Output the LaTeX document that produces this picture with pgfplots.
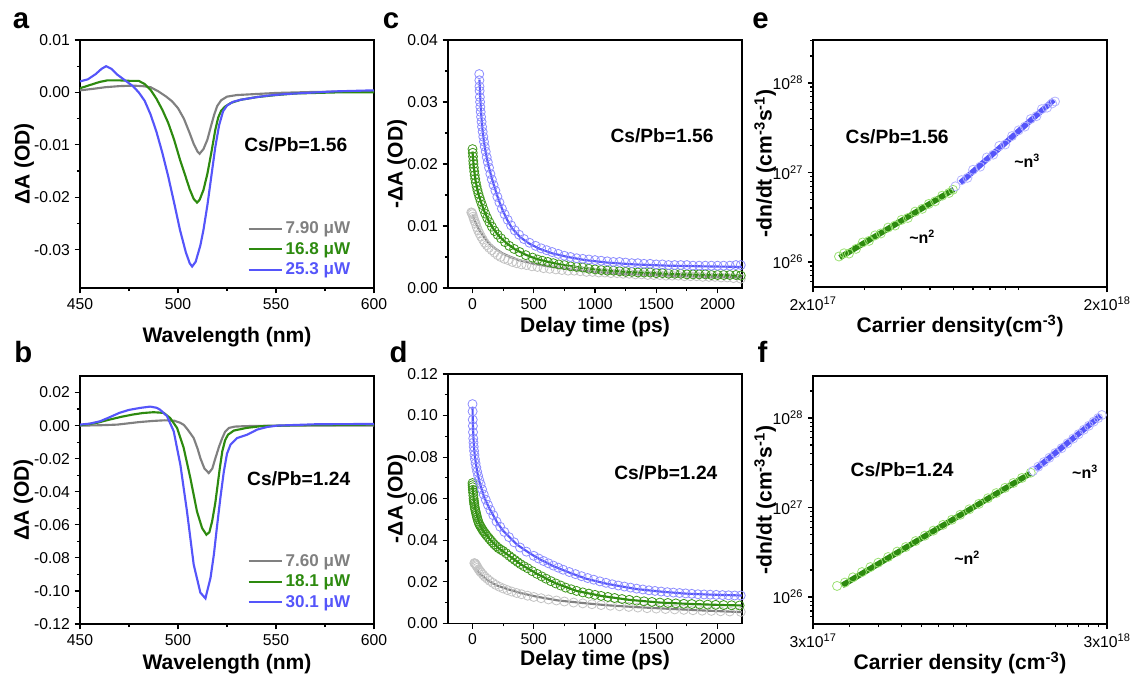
\documentclass[border=0pt]{standalone}
\usepackage{pgfplots}
\pgfplotsset{compat=1.18}
\usepackage{fontspec}
\setmainfont{Liberation Sans}

\definecolor{cgrey}{RGB}{128,128,128}
\definecolor{cgreen}{RGB}{45,138,15}
\definecolor{cblue}{RGB}{85,85,250}
\definecolor{mgrey}{RGB}{195,195,195}
\definecolor{mgreen}{RGB}{60,150,25}
\definecolor{mblue}{RGB}{140,140,255}
\definecolor{lgreen}{RGB}{155,225,115}
\definecolor{lblue}{RGB}{180,180,255}

\pgfplotsset{
  panel/.style={scale only axis, width=220.5pt, height=186pt, anchor=north west,
    axis line style={line width=1.1pt},
    tick align=outside, xtick pos=bottom, ytick pos=left,
    major tick length=4pt, minor tick length=2.3pt,
    tick style={black, line width=0.9pt},
    tick label style={font=\fontsize{11.8}{13}\selectfont},
    label style={font=\bfseries\fontsize{15.8}{18}\selectfont},
    ylabel style={anchor=center},
    xlabel style={anchor=center},
    /pgf/number format/assume math mode=true,
    /pgf/number format/1000 sep={},
    scaled ticks=false},
  yfix/.style={yticklabel style={/pgf/number format/.cd,fixed,fixed zerofill,precision=2}},
  leg/.style={legend cell align=left,
    legend style={draw=none, fill=none, font=\bfseries\fontsize{12.8}{15}\selectfont, row sep=1pt},
    legend image code/.code={\draw[##1, line width=1.5pt] (0pt,0pt) -- (25pt,0pt);}},
  circ/.style={only marks, mark=o, mark size=3.4pt, mark options={line width=0.6pt}},
}
\newcommand{\ann}{\bfseries\fontsize{14.4}{16}\selectfont}
\newcommand{\lab}{\bfseries\fontsize{22}{24}\selectfont}

\begin{document}
\begin{tikzpicture}
\useasboundingbox (0,0) rectangle (848.25pt,-505.5pt);

% ---------- a ----------
\begin{axis}[panel, yfix, leg, at={(60pt,-30pt)},
  xmin=450, xmax=600, ymin=-0.0373, ymax=0.01,
  xtick={450,500,550,600}, minor x tick num=1,
  ytick={-0.03,-0.02,-0.01,0,0.01}, minor y tick num=1,
  xlabel={Wavelength (nm)}, ylabel={ΔA (OD)},
  xlabel style={at={(axis description cs:0.5,-0.198)}},
  ylabel style={at={(axis description cs:-0.19,0.5)}},
  legend style={at={(axis description cs:0.556,0.29)}, anchor=north west}]
\addplot[cgrey, line width=1.6pt] coordinates {(450,0.0004)(457,0.0007)(463,0.0010)(470,0.0012)(477,0.0013)(482,0.0012)(486,0.0010)(490,0.0002)(494,-0.0008)(497,-0.0017)(500,-0.0030)(503,-0.0050)(506,-0.0078)(508,-0.0098)(510,-0.0113)(511,-0.0117)(513,-0.0108)(515,-0.0090)(517,-0.0062)(518.5,-0.0042)(520,-0.0026)(522,-0.0015)(525,-0.0008)(530,-0.0005)(540,-0.0003)(550,-0.0001)(570,0.0001)(600,0.0002)};
\addlegendentry{\textcolor{cgrey}{7.90 μW}}
\addplot[cgreen, line width=1.6pt] coordinates {(450,0.0008)(455,0.0014)(460,0.0020)(464,0.0023)(470,0.0023)(476,0.0022)(480,0.0022)(483,0.0016)(486,0.0005)(489,-0.0012)(492,-0.0033)(495,-0.0058)(498,-0.0090)(501,-0.0128)(504,-0.0162)(506,-0.0185)(508,-0.0203)(509.7,-0.0210)(511,-0.0205)(513,-0.0186)(515,-0.0155)(517,-0.0115)(519,-0.0072)(520.5,-0.0048)(522,-0.0035)(524,-0.0027)(527,-0.0020)(532,-0.0014)(540,-0.0009)(550,-0.0005)(560,-0.0002)(580,0.0)(600,0.0)};
\addlegendentry{\textcolor{cgreen}{16.8 μW}}
\addplot[cblue, line width=1.6pt] coordinates {(450,0.0021)(454,0.0025)(458,0.0035)(461,0.0045)(463.3,0.0050)(466,0.0045)(469,0.0034)(473,0.0023)(477,0.0012)(480,0.0)(483,-0.0016)(486,-0.0042)(489,-0.0075)(492,-0.0115)(495,-0.0160)(498,-0.0210)(501,-0.0262)(504,-0.0305)(506,-0.0326)(507.2,-0.0332)(509,-0.0323)(511.4,-0.0292)(513,-0.0262)(515,-0.0215)(517,-0.0160)(519,-0.0105)(521,-0.0062)(523,-0.0036)(525,-0.0025)(528,-0.0018)(532,-0.0014)(540,-0.0009)(546,-0.0006)(555,-0.0003)(565,-0.0001)(580,0.0002)(600,0.0004)};
\addlegendentry{\textcolor{cblue}{25.3 μW}}
\node[font=\ann] at (axis description cs:0.734,0.577) {Cs/Pb=1.56};
\end{axis}

% ---------- b ----------
\begin{axis}[panel, yfix, leg, at={(60pt,-282pt)},
  xmin=450, xmax=600, ymin=-0.12, ymax=0.03,
  xtick={450,500,550,600}, minor x tick num=1,
  ytick={-0.12,-0.10,-0.08,-0.06,-0.04,-0.02,0,0.02}, minor y tick num=1,
  xlabel={Wavelength (nm)}, ylabel={ΔA (OD)},
  xlabel style={at={(axis description cs:0.5,-0.163)}},
  ylabel style={at={(axis description cs:-0.192,0.5)}},
  legend style={at={(axis description cs:0.556,0.304)}, anchor=north west}]
\addplot[cgrey, line width=1.6pt] coordinates {(450,0.0)(460,0.0002)(469,0.0006)(480,0.0021)(487,0.0028)(493,0.0032)(498,0.0030)(501,0.0018)(503,0.0004)(505,-0.0025)(508,-0.0075)(510,-0.0140)(511.5,-0.0200)(513.5,-0.0260)(515.7,-0.0287)(517.5,-0.0260)(519,-0.0200)(521,-0.0125)(522.6,-0.0075)(524,-0.0038)(526,-0.0014)(529,-0.0006)(535,-0.0003)(550,0.0)(600,0.0)};
\addlegendentry{\textcolor{cgrey}{7.60 μW}}
\addplot[cgreen, line width=1.6pt] coordinates {(450,0.0002)(458,0.0015)(465,0.0036)(471,0.0053)(477,0.0067)(482,0.0076)(487.5,0.0081)(492.7,0.0077)(496,0.0046)(499.5,-0.0014)(502.9,-0.0135)(506.3,-0.0317)(509.7,-0.0520)(512.3,-0.0620)(514.5,-0.0660)(516,-0.0645)(517.4,-0.0580)(519,-0.0470)(520,-0.0380)(521.3,-0.0260)(522.6,-0.0156)(524,-0.0090)(525.5,-0.0055)(528.5,-0.0030)(535,-0.0014)(542,-0.0004)(560,0.0002)(600,0.0006)};
\addlegendentry{\textcolor{cgreen}{18.1 μW}}
\addplot[cblue, line width=1.6pt] coordinates {(450,0.0006)(455,0.0012)(460.2,0.0026)(465,0.0050)(470.1,0.0077)(475,0.0095)(480.7,0.0107)(485.8,0.0115)(489,0.0108)(490.8,0.0097)(494.4,0.0057)(497.8,-0.0034)(501.2,-0.0236)(504.6,-0.0520)(508,-0.0840)(511.4,-0.1010)(514,-0.1045)(516.6,-0.0920)(518.3,-0.0780)(520,-0.0600)(521.7,-0.0430)(523.4,-0.0277)(525,-0.0170)(526.8,-0.0115)(530.2,-0.0075)(535.3,-0.0055)(540.4,-0.0024)(545.6,-0.0008)(550.7,0.0)(570,0.0008)(600,0.001)};
\addlegendentry{\textcolor{cblue}{30.1 μW}}
\node[font=\ann] at (axis description cs:0.744,0.587) {Cs/Pb=1.24};
\end{axis}

% ---------- c ----------
\begin{axis}[panel, yfix, at={(336pt,-30pt)},
  xmin=-200, xmax=2200, ymin=0, ymax=0.04,
  xtick={0,500,1000,1500,2000}, minor x tick num=1,
  ytick={0,0.01,0.02,0.03,0.04}, minor y tick num=1,
  xlabel={Delay time (ps)}, ylabel={-ΔA (OD)},
  xlabel style={at={(axis description cs:0.5,-0.157)}},
  ylabel style={at={(axis description cs:-0.173,0.5)}}]
\addplot[circ, mgrey] coordinates {(-10,0.0122)(-5,0.0121)(0,0.0119)(5,0.0115)(10,0.0112)(17,0.0108)(25,0.0104)(35,0.0098)(45,0.0093)(57,0.0088)(70,0.0083)(85,0.0078)(100,0.0073)(117,0.0069)(135,0.0065)(157,0.0061)(180,0.0057)(205,0.0053)(230,0.0050)(260,0.0047)(290,0.0045)(325,0.0042)(360,0.0040)(400,0.0038)(440,0.0037)(485,0.0035)(530,0.0034)(580,0.0032)(630,0.0031)(680,0.0030)(730,0.0029)(780,0.0028)(830,0.0028)(880,0.0027)(930,0.0026)(980,0.0026)(1030,0.0025)(1080,0.0025)(1130,0.0024)(1180,0.0024)(1230,0.0023)(1280,0.0023)(1330,0.0022)(1380,0.0022)(1430,0.0021)(1480,0.0021)(1530,0.0021)(1580,0.0020)(1630,0.0020)(1680,0.0020)(1730,0.0019)(1780,0.0019)(1830,0.0019)(1880,0.0018)(1930,0.0018)(1980,0.0018)(2030,0.0017)(2080,0.0017)(2130,0.0016)(2190,0.0015)};
\addplot[cgrey, line width=1.6pt] coordinates {(0,0.0117)(20,0.0108)(54,0.0094)(90,0.0083)(135,0.0072)(190,0.0063)(243,0.0056)(300,0.0051)(378,0.0045)(500,0.0039)(650,0.0034)(800,0.0030)(1000,0.0026)(1200,0.0023)(1595,0.0020)(1900,0.0018)(2200,0.0017)};
\addplot[circ, mgreen] coordinates {(0,0.0224)(2,0.0218)(4,0.0212)(6,0.0205)(8,0.0200)(11,0.0194)(14,0.0188)(18,0.0182)(22,0.0176)(27,0.0170)(33,0.0164)(40,0.0158)(48,0.0152)(57,0.0146)(67,0.0140)(78,0.0134)(90,0.0127)(104,0.0120)(120,0.0113)(138,0.0106)(158,0.0099)(180,0.0092)(205,0.0086)(233,0.0080)(265,0.0074)(300,0.0068)(340,0.0063)(385,0.0058)(435,0.0053)(490,0.0049)(530,0.0046)(570,0.0044)(615,0.0042)(660,0.0040)(705,0.0038)(750,0.0037)(800,0.0035)(850,0.0034)(900,0.0033)(950,0.0031)(1000,0.0030)(1050,0.0029)(1100,0.0028)(1150,0.0028)(1200,0.0027)(1250,0.0026)(1300,0.0026)(1350,0.0025)(1400,0.0025)(1450,0.0025)(1500,0.0024)(1550,0.0024)(1600,0.0023)(1650,0.0023)(1700,0.0023)(1750,0.0022)(1800,0.0022)(1850,0.0022)(1900,0.0022)(1950,0.0021)(2000,0.0021)(2050,0.0021)(2100,0.0021)(2150,0.0021)(2190,0.0020)};
\addplot[cgreen, line width=1.6pt] coordinates {(0,0.0220)(10,0.0196)(25,0.0173)(45,0.0154)(70,0.0138)(100,0.0122)(135,0.0107)(175,0.0094)(220,0.0083)(280,0.0072)(350,0.0062)(430,0.0054)(520,0.0047)(620,0.0042)(740,0.0037)(880,0.0033)(1050,0.0029)(1250,0.0026)(1460,0.0024)(1700,0.0022)(1950,0.0021)(2200,0.0020)};
\addplot[circ, mblue] coordinates {(55,0.0345)(56,0.0335)(57,0.0325)(58,0.0318)(60,0.0308)(62,0.0300)(64,0.0292)(67,0.0284)(70,0.0276)(74,0.0268)(78,0.0260)(83,0.0252)(88,0.0244)(94,0.0236)(100,0.0228)(108,0.0220)(116,0.0211)(125,0.0203)(135,0.0194)(146,0.0184)(158,0.0175)(172,0.0166)(187,0.0157)(203,0.0147)(220,0.0138)(240,0.0128)(262,0.0119)(287,0.0110)(315,0.0101)(345,0.0093)(380,0.0086)(420,0.0079)(465,0.0073)(515,0.0068)(560,0.0064)(605,0.0061)(650,0.0058)(700,0.0055)(750,0.0052)(800,0.0050)(850,0.0048)(900,0.0047)(950,0.0046)(1000,0.0045)(1050,0.0044)(1100,0.0043)(1150,0.0042)(1200,0.0042)(1250,0.0041)(1300,0.0040)(1350,0.0040)(1400,0.0039)(1450,0.0039)(1500,0.0038)(1550,0.0038)(1600,0.0037)(1650,0.0037)(1700,0.0037)(1750,0.0037)(1800,0.0036)(1850,0.0036)(1900,0.0036)(1950,0.0036)(2000,0.0036)(2050,0.0036)(2100,0.0036)(2150,0.0037)(2190,0.0037)};
\addplot[cblue, line width=1.6pt] coordinates {(57,0.0336)(62,0.0312)(70,0.0283)(80,0.0258)(92,0.0238)(105,0.0222)(120,0.0207)(140,0.0190)(165,0.0172)(190,0.0156)(215,0.0141)(243,0.0127)(280,0.0111)(324,0.0096)(390,0.0082)(460,0.0072)(550,0.0063)(650,0.0056)(780,0.0050)(920,0.0045)(1100,0.0041)(1324,0.0038)(1600,0.0036)(1865,0.0035)(2200,0.0034)};
\node[font=\ann] at (axis description cs:0.728,0.613) {Cs/Pb=1.56};
\end{axis}

% ---------- d ----------
\begin{axis}[panel, yfix, at={(336pt,-280.5pt)}, height=187pt,
  xmin=-200, xmax=2200, ymin=0, ymax=0.12,
  xtick={0,500,1000,1500,2000}, minor x tick num=1,
  ytick={0,0.02,0.04,0.06,0.08,0.10,0.12}, minor y tick num=1,
  xlabel={Delay time (ps)}, ylabel={-ΔA (OD)},
  xlabel style={at={(axis description cs:0.5,-0.149)}},
  ylabel style={at={(axis description cs:-0.173,0.5)}}]
\addplot[circ, mgrey] coordinates {(15,0.0290)(20,0.0288)(25,0.0285)(30,0.0280)(35,0.0275)(42,0.0268)(50,0.0260)(60,0.0252)(70,0.0245)(85,0.0235)(100,0.0225)(120,0.0215)(140,0.0205)(165,0.0195)(190,0.0185)(220,0.0176)(250,0.0168)(285,0.0160)(320,0.0153)(360,0.0146)(400,0.0140)(450,0.0133)(500,0.0127)(560,0.0121)(620,0.0115)(685,0.0110)(750,0.0105)(825,0.0100)(900,0.0096)(975,0.0092)(1050,0.0088)(1125,0.0085)(1200,0.0082)(1275,0.0079)(1350,0.0076)(1425,0.0073)(1500,0.0071)(1575,0.0069)(1650,0.0067)(1725,0.0065)(1800,0.0063)(1875,0.0061)(1950,0.0060)(2025,0.0058)(2100,0.0057)(2190,0.0055)};
\addplot[cgrey, line width=1.6pt] coordinates {(27,0.0264)(60,0.0240)(122,0.0207)(200,0.0182)(300,0.0162)(400,0.0145)(527,0.0128)(700,0.0110)(932,0.0096)(1100,0.0087)(1338,0.0078)(1600,0.0070)(1878,0.0062)(2200,0.0054)};
\addplot[circ, mgreen] coordinates {(0,0.0675)(1,0.0665)(2,0.0655)(3,0.0643)(5,0.0630)(7,0.0615)(9,0.0600)(11,0.0590)(13,0.0580)(15,0.0572)(18,0.0560)(21,0.0550)(25,0.0540)(29,0.0530)(33,0.0520)(37,0.0510)(42,0.0500)(47,0.0490)(53,0.0480)(60,0.0472)(67,0.0465)(75,0.0457)(82,0.0450)(90,0.0443)(100,0.0435)(110,0.0427)(122,0.0418)(135,0.0409)(148,0.0400)(163,0.0390)(178,0.0380)(195,0.0371)(212,0.0362)(230,0.0355)(250,0.0348)(275,0.0337)(300,0.0325)(322,0.0315)(345,0.0305)(368,0.0295)(392,0.0285)(420,0.0275)(450,0.0265)(488,0.0251)(527,0.0238)(565,0.0226)(600,0.0215)(640,0.0203)(680,0.0192)(720,0.0182)(760,0.0172)(805,0.0164)(850,0.0156)(900,0.0149)(950,0.0143)(1000,0.0137)(1050,0.0132)(1105,0.0127)(1160,0.0122)(1220,0.0117)(1280,0.0113)(1340,0.0109)(1400,0.0106)(1465,0.0103)(1530,0.0100)(1595,0.0098)(1660,0.0096)(1725,0.0094)(1790,0.0093)(1855,0.0091)(1920,0.0090)(1985,0.0089)(2050,0.0088)(2115,0.0087)(2180,0.0086)};
\addplot[cgreen, line width=1.6pt] coordinates {(0,0.0660)(10,0.0600)(25,0.0545)(45,0.0500)(67,0.0465)(100,0.0435)(148,0.0400)(212,0.0362)(300,0.0325)(392,0.0285)(527,0.0238)(680,0.0192)(850,0.0156)(1050,0.0132)(1280,0.0113)(1530,0.0100)(1790,0.0093)(2050,0.0088)(2200,0.0086)};
\addplot[circ, mblue] coordinates {(0,0.1055)(1,0.1020)(2,0.0980)(3,0.0950)(4,0.0920)(6,0.0890)(8,0.0870)(10,0.0850)(13,0.0830)(16,0.0810)(20,0.0790)(25,0.0770)(31,0.0750)(38,0.0730)(46,0.0710)(55,0.0690)(66,0.0670)(78,0.0645)(92,0.0620)(108,0.0595)(126,0.0570)(146,0.0545)(170,0.0520)(196,0.0490)(226,0.0465)(260,0.0440)(298,0.0415)(340,0.0390)(388,0.0365)(440,0.0345)(500,0.0325)(540,0.0312)(580,0.0300)(620,0.0289)(660,0.0278)(700,0.0268)(740,0.0258)(790,0.0247)(840,0.0237)(890,0.0227)(940,0.0218)(990,0.0210)(1040,0.0202)(1090,0.0195)(1140,0.0188)(1190,0.0182)(1240,0.0177)(1290,0.0172)(1340,0.0167)(1390,0.0163)(1440,0.0159)(1490,0.0156)(1540,0.0153)(1590,0.0150)(1640,0.0148)(1690,0.0146)(1740,0.0144)(1790,0.0142)(1840,0.0140)(1890,0.0139)(1940,0.0138)(1990,0.0137)(2040,0.0136)(2090,0.0135)(2140,0.0134)(2190,0.0134)};
\addplot[cblue, line width=1.6pt] coordinates {(0,0.1040)(3,0.0960)(7,0.0900)(12,0.0850)(20,0.0800)(30,0.0760)(40,0.0725)(55,0.0685)(75,0.0645)(94,0.0610)(120,0.0575)(150,0.0540)(202,0.0485)(250,0.0445)(311,0.0410)(365,0.0378)(473,0.0335)(560,0.0305)(662,0.0275)(800,0.0242)(932,0.0214)(1100,0.0190)(1338,0.0165)(1550,0.0152)(1743,0.0143)(1950,0.0138)(2200,0.0134)};
\node[font=\ann] at (axis description cs:0.741,0.606) {Cs/Pb=1.24};
\end{axis}

% ---------- e ----------
\begin{axis}[panel, at={(609.75pt,-30pt)}, height=185.25pt,
  xmode=log, ymode=log,
  xmin=2e17, xmax=2e18, ymin=5.25e25, ymax=3.02e28,
  xtick={2e17,2e18}, xticklabels={2x10\textsuperscript{17},2x10\textsuperscript{18}},
  minor xtick={3e17,4e17,5e17,6e17,7e17,8e17,9e17,1e18},
  ytick={1e26,1e27,1e28}, yticklabels={10\textsuperscript{26},10\textsuperscript{27},10\textsuperscript{28}},
  minor ytick={6e25,7e25,8e25,9e25,2e26,3e26,4e26,5e26,6e26,7e26,8e26,9e26,2e27,3e27,4e27,5e27,6e27,7e27,8e27,9e27,2e28,3e28},
  xlabel={Carrier density(cm\textsuperscript{-3})}, ylabel={-dn/dt (cm\textsuperscript{-3}s\textsuperscript{-1})},
  xlabel style={at={(axis description cs:0.5,-0.158)}},
  ylabel style={at={(axis description cs:-0.163,0.5), font=\bfseries\fontsize{17}{19}\selectfont}}]
\addplot[circ, lgreen] coordinates {(2.45e17,1.15e26)(2.55e17,1.25e26)(2.65e17,1.24e26)(2.8e17,1.40e26)(2.95e17,1.65e26)(3.1e17,1.72e26)(3.25e17,1.98e26)(3.4e17,2.08e26)(3.6e17,2.42e26)(3.8e17,2.55e26)(4.0e17,2.95e26)(4.2e17,3.10e26)(4.45e17,3.65e26)(4.7e17,3.92e26)(4.95e17,4.45e26)(5.2e17,4.75e26)(5.5e17,5.50e26)(5.8e17,5.90e26)(5.98e17,6.40e26)};
\addplot[circ, lblue] coordinates {(6.1e17,7.0e26)(6.4e17,8.2e26)(6.7e17,8.7e26)(7.0e17,1.07e27)(7.4e17,1.16e27)(7.8e17,1.47e27)(8.2e17,1.58e27)(8.6e17,1.98e27)(9.0e17,2.05e27)(9.5e17,2.55e27)(1.0e18,2.95e27)(1.05e18,3.25e27)(1.1e18,3.95e27)(1.15e18,4.25e27)(1.2e18,5.10e27)(1.25e18,5.30e27)(1.3e18,5.9e27)(1.33e18,6.2e27)};
\addplot[cgreen, line width=4.2pt] coordinates {(2.464e17,1.118e26)(6.02e17,6.46e26)};
\addplot[cblue, line width=4.2pt] coordinates {(6.34e17,7.66e26)(1.317e18,6.46e27)};
\node[font=\ann] at (axis description cs:0.286,0.607) {Cs/Pb=1.56};
\node[font=\bfseries\fontsize{12}{14}\selectfont] at (axis description cs:0.371,0.204) {\textasciitilde n\textsuperscript{2}};
\node[font=\bfseries\fontsize{12}{14}\selectfont] at (axis description cs:0.728,0.510) {\textasciitilde n\textsuperscript{3}};
\end{axis}

% ---------- f ----------
\begin{axis}[panel, at={(609.75pt,-282pt)},
  xmode=log, ymode=log,
  xmin=3e17, xmax=3e18, ymin=5e25, ymax=2.95e28,
  xtick={3e17,3e18}, xticklabels={3x10\textsuperscript{17},3x10\textsuperscript{18}},
  minor xtick={4e17,5e17,6e17,7e17,8e17,9e17,1e18,2e18,2.2e18,2.4e18,2.6e18,2.8e18},
  ytick={1e26,1e27,1e28}, yticklabels={10\textsuperscript{26},10\textsuperscript{27},10\textsuperscript{28}},
  minor ytick={6e25,7e25,8e25,9e25,2e26,3e26,4e26,5e26,6e26,7e26,8e26,9e26,2e27,3e27,4e27,5e27,6e27,7e27,8e27,9e27,2e28},
  xlabel={Carrier density (cm\textsuperscript{-3})}, ylabel={-dn/dt (cm\textsuperscript{-3}s\textsuperscript{-1})},
  xlabel style={at={(axis description cs:0.5,-0.158)}},
  ylabel style={at={(axis description cs:-0.163,0.5), font=\bfseries\fontsize{17}{19}\selectfont}}]
\addplot[circ, lgreen] coordinates {(3.62e17,1.33e26)(3.85e17,1.45e26)(4.1e17,1.66e26)(4.4e17,1.90e26)(4.7e17,2.16e26)(5.0e17,2.42e26)(5.4e17,2.80e26)(5.8e17,3.22e26)(6.2e17,3.62e26)(6.7e17,4.22e26)(7.2e17,4.85e26)(7.7e17,5.52e26)(8.3e17,6.40e26)(8.9e17,7.30e26)(9.5e17,8.30e26)(1.02e18,9.55e26)(1.1e18,1.10e27)(1.18e18,1.27e27)(1.26e18,1.45e27)(1.35e18,1.66e27)(1.44e18,1.88e27)(1.54e18,2.14e27)(1.65e18,2.45e27)};
\addplot[circ, lblue] coordinates {(1.68e18,2.56e27)(1.75e18,2.86e27)(1.83e18,3.22e27)(1.91e18,3.60e27)(2.0e18,4.06e27)(2.1e18,4.60e27)(2.2e18,5.22e27)(2.3e18,5.90e27)(2.4e18,6.60e27)(2.5e18,7.40e27)(2.6e18,8.20e27)(2.7e18,9.10e27)(2.8e18,1.00e28)(2.88e18,1.08e28)};
\addplot[cgreen, line width=4.2pt] coordinates {(3.77e17,1.35e26)(1.646e18,2.41e27)};
\addplot[cblue, line width=4.2pt] coordinates {(1.713e18,2.68e27)(2.85e18,1.06e28)};
\node[font=\ann] at (axis description cs:0.303,0.621) {Cs/Pb=1.24};
\node[font=\bfseries\fontsize{12}{14}\selectfont] at (axis description cs:0.524,0.266) {\textasciitilde n\textsuperscript{2}};
\node[font=\bfseries\fontsize{12}{14}\selectfont] at (axis description cs:0.925,0.613) {\textasciitilde n\textsuperscript{3}};
\end{axis}

% panel letters
\node[font=\lab, anchor=base west, inner sep=0] at (9.5pt,-21.5pt) {a};
\node[font=\lab, anchor=base west, inner sep=0] at (287pt,-21.5pt) {c};
\node[font=\lab, anchor=base west, inner sep=0] at (564pt,-21.5pt) {e};
\node[font=\lab, anchor=base west, inner sep=0] at (10.5pt,-271.5pt) {b};
\node[font=\lab, anchor=base west, inner sep=0] at (292pt,-271.5pt) {d};
\node[font=\lab, anchor=base west, inner sep=0] at (568pt,-271.5pt) {f};
\end{tikzpicture}
\end{document}
